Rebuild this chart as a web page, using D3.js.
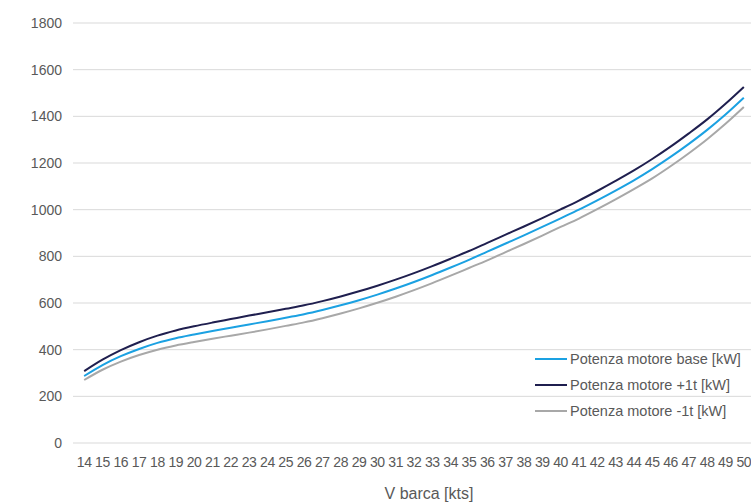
<!DOCTYPE html>
<html>
<head>
<meta charset="utf-8">
<script src="https://cdn.jsdelivr.net/npm/d3@7"></script>
<style>
  html, body { margin: 0; padding: 0; background: #fff; }
  svg { display: block; font-family: "Liberation Sans", Arial, sans-serif; }
</style>
</head>
<body>
<svg id="chart" width="751" height="503"></svg>
<script>
const speeds = [14,15,16,17,18,19,20,21,22,23,24,25,26,27,28,29,30,31,32,33,34,35,36,37,38,39,40,41,42,43,44,45,46,47,48,49,50];
const baseValues = [287,334,372,403,429,449,465,480,494,508,522,537,552,570,590,612,636,662,690,720,752,785,820,855,890,926,963,1000,1040,1082,1126,1174,1226,1282,1342,1408,1480];
const plusValues = [308,357,398,432,460,482,500,516,531,546,560,575,590,608,628,650,674,700,728,758,790,823,858,893,928,964,1001,1039,1080,1123,1168,1217,1270,1327,1387,1454,1526];
const minusValues = [270,314,349,377,400,418,433,447,460,473,487,502,517,535,555,577,601,627,655,685,717,750,783,818,853,889,926,962,1002,1044,1088,1134,1186,1242,1302,1368,1440];
const seriesNames = ["Potenza motore base [kW]", "Potenza motore +1t [kW]", "Potenza motore -1t [kW]"];
const seriesColors = ["#1ba1e2", "#1f1f4f", "#a8a8a8"];
const yTicks = [0,200,400,600,800,1000,1200,1400,1600,1800];
const xTitle = "V barca [kts]";

const svg = d3.select("#chart");
const x = d3.scalePoint().domain(speeds).range([75, 753]).padding(0.5);
const y = d3.scaleLinear().domain([0, 1800]).range([443, 23]);

// gridlines
svg.append("g").selectAll("line").data(yTicks).join("line")
  .attr("x1", 73).attr("x2", 751)
  .attr("y1", d => y(d)).attr("y2", d => y(d))
  .attr("stroke", "#d9d9d9").attr("stroke-width", 1);

// y labels
svg.append("g").selectAll("text").data(yTicks).join("text")
  .attr("x", 62).attr("y", d => y(d)).attr("dy", "0.35em")
  .attr("text-anchor", "end").attr("font-size", 14).attr("fill", "#595959")
  .text(d => d);

// x labels
svg.append("g").selectAll("text").data(speeds).join("text")
  .attr("x", d => x(d)).attr("y", 466.5)
  .attr("text-anchor", "middle").attr("font-size", 14).attr("fill", "#595959")
  .attr("letter-spacing", "-0.4")
  .text(d => d);

svg.append("text").attr("x", 429).attr("y", 499)
  .attr("text-anchor", "middle").attr("font-size", 16).attr("fill", "#595959")
  .text(xTitle);

const series = [
  { name: seriesNames[0], values: baseValues, color: seriesColors[0] },
  { name: seriesNames[1], values: plusValues, color: seriesColors[1] },
  { name: seriesNames[2], values: minusValues, color: seriesColors[2] }
];

const line = d3.line()
  .x((d, i) => x(speeds[i]))
  .y(d => y(d))
  .curve(d3.curveMonotoneX);

svg.append("g").selectAll("path").data([series[2], series[0], series[1]]).join("path")
  .attr("d", d => line(d.values))
  .attr("fill", "none")
  .attr("stroke", d => d.color)
  .attr("stroke-width", 2)
  .attr("stroke-linejoin", "round");

// legend
const legend = svg.append("g").selectAll("g").data(series).join("g")
  .attr("transform", (d, i) => `translate(535, ${359 + i * 26})`);
legend.append("line").attr("x1", 0).attr("x2", 32).attr("y1", 0).attr("y2", 0)
  .attr("stroke", d => d.color).attr("stroke-width", 2);
legend.append("text").attr("x", 35).attr("y", 0).attr("dy", "0.35em")
  .attr("font-size", 14.5).attr("fill", "#595959")
  .text(d => d.name);
</script>
</body>
</html>
